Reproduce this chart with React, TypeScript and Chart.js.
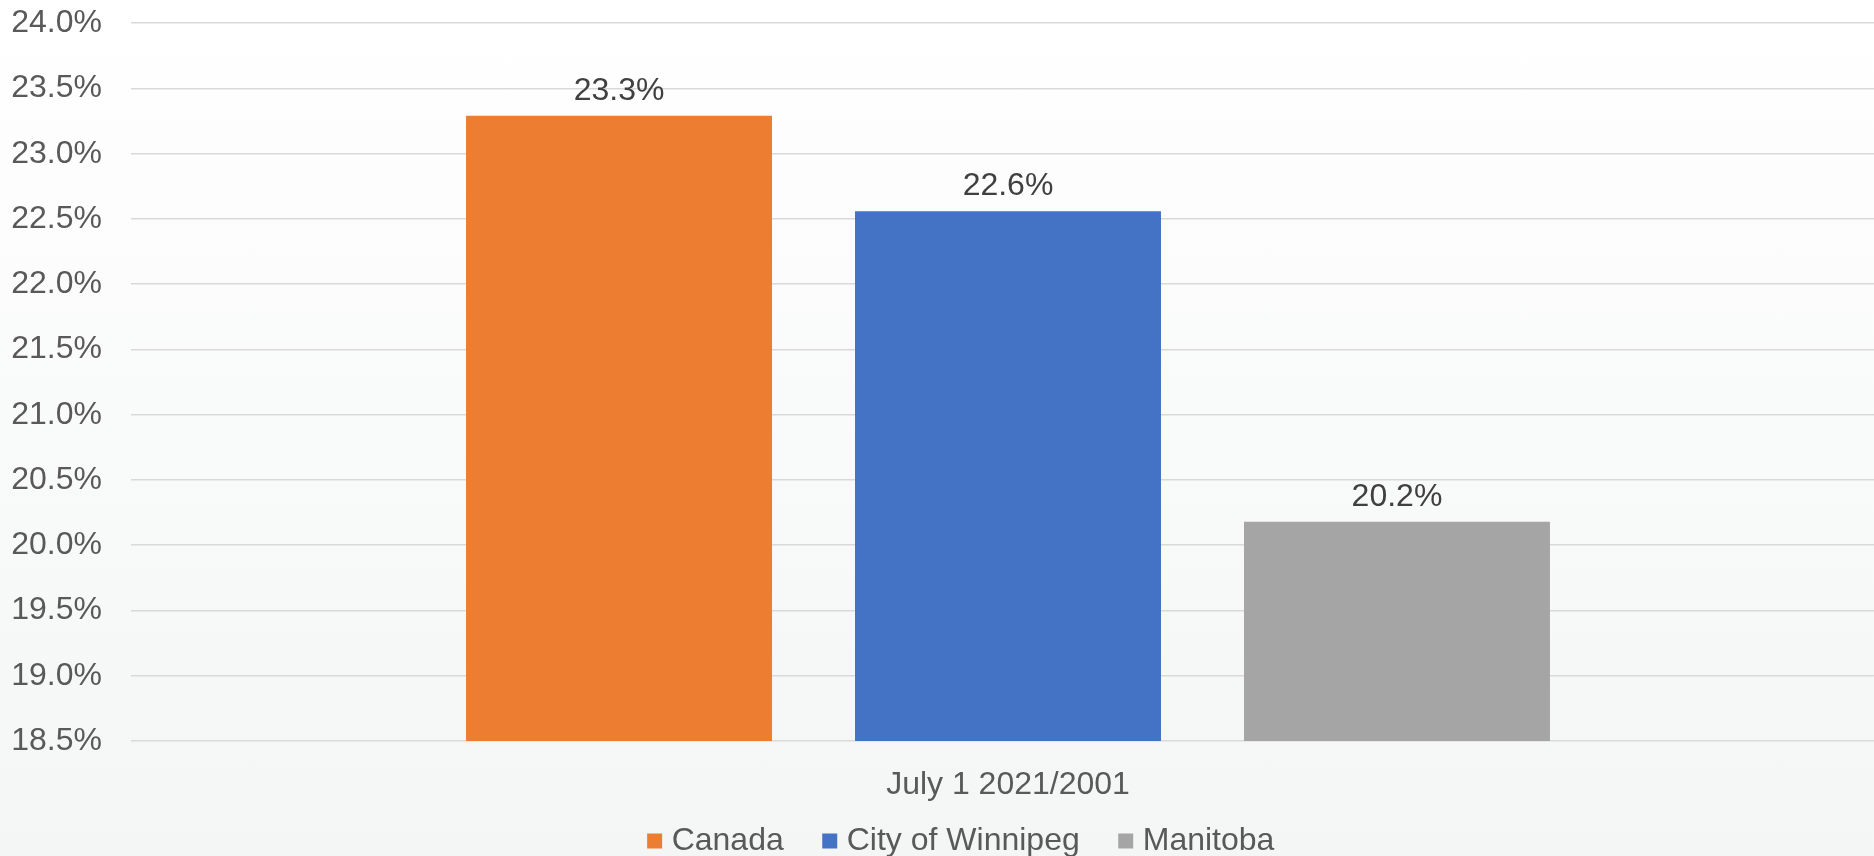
import React, { useEffect, useRef } from "react";
import { Chart, registerables } from "chart.js";

Chart.register(...registerables);

const categories = ["July 1 2021/2001"];
const seriesNames = ["Canada", "City of Winnipeg", "Manitoba"];
const canadaValues = [23.29];
const winnipegValues = [22.56];
const manitobaValues = [20.18];
const seriesColors = ["#ED7D31", "#4472C4", "#A5A5A5"];
const yMin = 18.5;
const yMax = 24;
const yStep = 0.5;

const FONT = "'Liberation Sans', Arial, sans-serif";
const FS = 32;
const PAD_LEFT = 4;
const AREA_LEFT = 131;
const X_AXIS_HEIGHT = 66;
const X_EXTEND_RIGHT = 11;
const LEGEND_DX = 25;
const LEGEND_DY = -27;

const dataLabelPlugin = {
  id: "dataLabels",
  afterDatasetsDraw(chart: any) {
    const ctx = chart.ctx;
    ctx.save();
    ctx.font = `${FS}px ${FONT}`;
    ctx.fillStyle = "#404040";
    ctx.textAlign = "center";
    ctx.textBaseline = "alphabetic";
    chart.data.datasets.forEach((ds: any, i: number) => {
      const meta = chart.getDatasetMeta(i);
      meta.data.forEach((el: any, j: number) => {
        const v = ds.data[j] as number;
        ctx.fillText(v.toFixed(1) + "%", el.x, el.y - 16);
      });
    });
    ctx.restore();
  },
};

const layoutTweakPlugin = {
  id: "layoutTweak",
  afterLayout(chart: any) {
    const lg = chart.legend;
    if (lg) {
      lg.left += LEGEND_DX;
      lg.right += LEGEND_DX;
      lg.top += LEGEND_DY;
      lg.bottom += LEGEND_DY;
    }
    const xs = chart.scales.x;
    if (xs) {
      xs.right += X_EXTEND_RIGHT;
      xs.width += X_EXTEND_RIGHT;
      xs.configure();
    }
  },
};

export default function App() {
  const ref = useRef<HTMLCanvasElement | null>(null);

  useEffect(() => {
    document.body.style.margin = "0";
    if (!ref.current) return;
    const chart = new Chart(ref.current, {
      type: "bar",
      data: {
        labels: categories,
        datasets: [
          { label: seriesNames[0], data: canadaValues, backgroundColor: seriesColors[0] },
          { label: seriesNames[1], data: winnipegValues, backgroundColor: seriesColors[1] },
          { label: seriesNames[2], data: manitobaValues, backgroundColor: seriesColors[2] },
        ],
      },
      options: {
        animation: false,
        responsive: false,
        categoryPercentage: 0.6653,
        barPercentage: 0.7866,
        layout: { padding: { left: PAD_LEFT, right: 0, top: 0, bottom: -38 } },
        scales: {
          x: {
            grid: { display: false, drawTicks: false },
            border: { display: false },
            ticks: {
              color: "#595959",
              font: { family: FONT, size: FS },
              padding: 25,
            },
            afterFit: (scale: any) => {
              scale.height = X_AXIS_HEIGHT;
            },
          },
          y: {
            min: yMin,
            max: yMax,
            grid: {
              color: "#d9d9d9",
              lineWidth: 1.5,
              drawTicks: true,
              tickLength: 25,
              tickColor: "rgba(0,0,0,0)",
            },
            border: { display: false },
            ticks: {
              stepSize: yStep,
              color: "#595959",
              font: { family: FONT, size: FS },
              padding: 4,
              callback: (v: any) => Number(v).toFixed(1) + "%",
            },
            afterFit: (scale: any) => {
              scale.width = AREA_LEFT - PAD_LEFT;
            },
          },
        },
        plugins: {
          legend: {
            position: "bottom",
            labels: {
              color: "#595959",
              font: { family: FONT, size: FS },
              usePointStyle: true,
              pointStyle: "rect",
              boxWidth: 2,
              boxHeight: 15,
              padding: 45,
            },
          },
          tooltip: { enabled: false },
        },
      },
      plugins: [dataLabelPlugin, layoutTweakPlugin],
    });
    return () => chart.destroy();
  }, []);

  return (
    <div
      style={{
        width: 1874,
        height: 856,
        background: "linear-gradient(to bottom, #ffffff 0%, #f4f5f5 100%)",
      }}
    >
      <canvas ref={ref} width={1874} height={856} style={{ display: "block" }} />
    </div>
  );
}
